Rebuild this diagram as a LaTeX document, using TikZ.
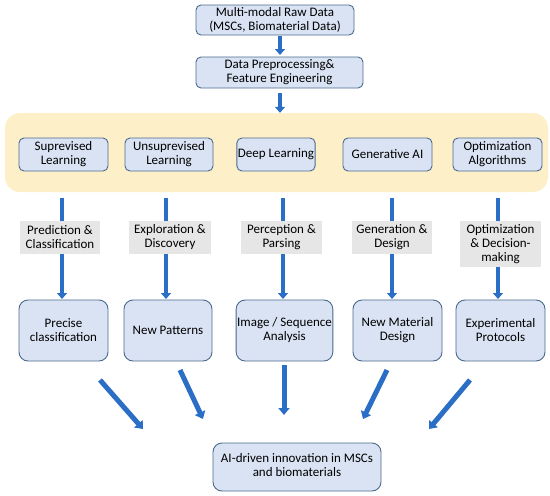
\documentclass[tikz,border=0pt]{standalone}
\usepackage{fontspec}
\setmainfont{Carlito}
\usetikzlibrary{arrows.meta}
\definecolor{boxfill}{HTML}{DAE3F3}
\definecolor{boxline}{HTML}{4A6A8F}
\definecolor{arrblue}{HTML}{2A6EC6}
\definecolor{labgray}{HTML}{E7E6E6}
\definecolor{bandyel}{HTML}{FDEFC7}
\begin{document}
\begin{tikzpicture}[x=1pt,y=-1pt,
  txt/.style={font=\fontsize{13}{14}\selectfont, align=center, inner sep=1pt},
  box/.style={txt, draw=boxline, fill=boxfill, line width=0.9pt, rounded corners=5pt},
  bigbox/.style={box, rounded corners=9pt, minimum height=61pt},
  lab/.style={txt, fill=labgray, minimum height=33pt},
  arr/.style={draw=arrblue, line width=4pt, -{Triangle[width=10pt,length=6pt]}},
  farr/.style={draw=arrblue, line width=5pt, -{Triangle[width=11pt,length=7pt]}}]
\useasboundingbox (0,0) rectangle (550,496);
% top
\node[box, minimum width=158pt, minimum height=30pt] (raw) at (275,20) {Multi-modal Raw Data\\(MSCs, Biomaterial Data)};
\node[box, minimum width=167pt, minimum height=31pt] (pre) at (279.5,72.5) {Data Preprocessing\&\\Feature Engineering};
\coordinate (a1s) at (280,36);
\coordinate (a1e) at (280,55);
\draw[arr] (a1s) -- (a1e);
% band
\node[fill=bandyel, rounded corners=15pt, minimum width=543pt, minimum height=79pt, inner sep=0pt] (band) at (276.5,152.5) {};
\coordinate (a2s) at (280,93);
\draw[arr] (a2s) -- (band.north -| a2s);
% row 1
\node[box, minimum width=89pt, minimum height=33pt] (m1) at (63.5,154.5) {Suprevised\\Learning};
\node[box, minimum width=88pt, minimum height=33pt] (m2) at (169,154.5) {Unsuprevised\\Learning};
\node[box, minimum width=78pt, minimum height=33pt] (m3) at (276,154.5) {Deep Learning};
\node[box, minimum width=89pt, minimum height=33pt] (m4) at (387.5,154.5) {Generative AI};
\node[box, minimum width=89pt, minimum height=33pt] (m5) at (497.5,154.5) {Optimization\\Algorithms};
% row 2
\node[bigbox, minimum width=89pt] (r1) at (63.5,330.5) {Precise\\classification};
\node[bigbox, minimum width=88pt] (r2) at (168,330.5) {New Patterns};
\node[bigbox, minimum width=93pt] (r3) at (284.5,330.5) {Image / Sequence\\Analysis};
\node[bigbox, minimum width=89pt] (r4) at (397.5,330.5) {New Material\\Design};
\node[bigbox, minimum width=89pt] (r5) at (500.5,330.5) {Experimental\\Protocols};
% vertical arrows
\foreach \i/\xx in {1/62,2/166,3/283,4/392,5/498}{
  \coordinate (v\i s) at (\xx,198);
  \coordinate (v\i e) at (\xx,299);
  \draw[arr] (v\i s) -- (v\i e);
}
% labels
\node[lab, minimum width=80pt] (l1) at (60,237.5) {Prediction \&\\Classification};
\node[lab, minimum width=82pt] (l2) at (170,237.5) {Exploration \&\\Discovery};
\node[lab, minimum width=81pt] (l3) at (281.5,237.5) {Perception \&\\Parsing};
\node[lab, minimum width=80pt] (l4) at (392,237.5) {Generation \&\\Design};
\node[lab, minimum width=81pt, minimum height=46pt] (l5) at (500.5,244) {Optimization\\\& Decision-\\making};
% bottom
\node[box, rounded corners=9pt, minimum width=168pt, minimum height=48pt] (out) at (297,467) {\begin{tabular}{@{}c@{}}AI-driven innovation in MSCs\\ and biomaterials\end{tabular}};
\coordinate (f1s) at (100,380); \coordinate (f1e) at (143,429);
\coordinate (f2s) at (180,370); \coordinate (f2e) at (203,419);
\coordinate (f3s) at (284,365); \coordinate (f3e) at (284,415);
\coordinate (f4s) at (387,370); \coordinate (f4e) at (363,419);
\coordinate (f5s) at (470,380); \coordinate (f5e) at (429,429);
\foreach \i in {1,...,5}{\draw[farr] (f\i s) -- (f\i e);}
\end{tikzpicture}
\end{document}
